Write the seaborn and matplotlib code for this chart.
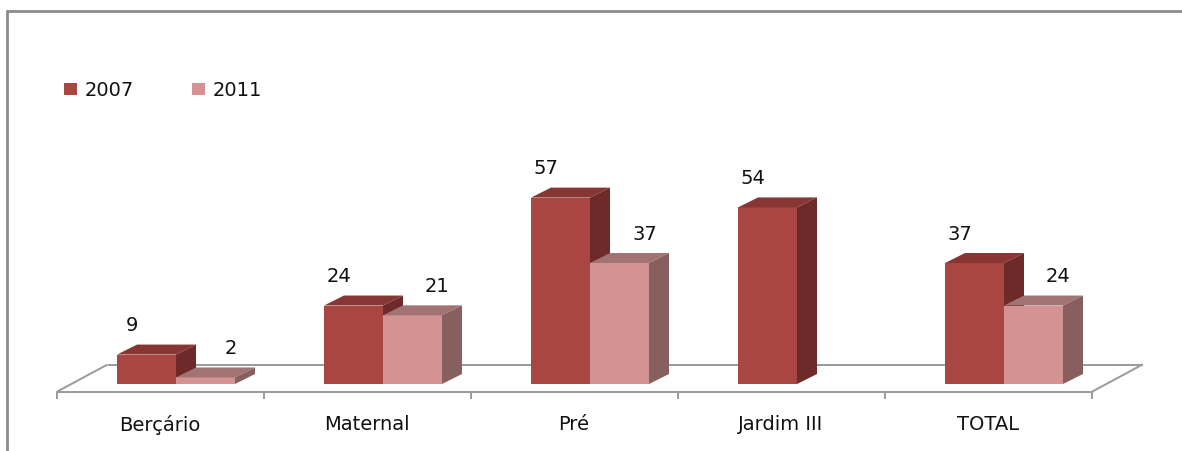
import matplotlib
matplotlib.use("Agg")
import matplotlib.pyplot as plt
import seaborn as sns
import pandas as pd
from matplotlib.patches import Polygon, Rectangle
from matplotlib.lines import Line2D

# ---- data -------------------------------------------------------------
categories = ["Berçário", "Maternal", "Pré", "Jardim III", "TOTAL"]
years = ["2007", "2011"]
values_2007 = [9, 24, 57, 54, 37]
values_2011 = [2, 21, 37, None, 24]

# ---- style ------------------------------------------------------------
front_colors = {"2007": "#AA4642", "2011": "#D49292"}
top_colors = {"2007": "#873634", "2011": "#A27373"}
side_colors = {"2007": "#6E2A28", "2011": "#875F5F"}
grid_color = "#9A9A9A"
text_font = ["DejaVu Sans"]
FS = 14

sns.set_style("white")
plt.rcParams["font.family"] = text_font

rows = []
for cat, v07, v11 in zip(categories, values_2007, values_2011):
    for yr, v in zip(years, (v07, v11)):
        if v is not None:
            rows.append({"category": cat, "year": yr, "value": v})
df = pd.DataFrame(rows)

# figure geometry (pixels at dpi 100)
FIG_W, FIG_H, DPI = 1182, 452, 100
PX_CAT = 207.0      # pixels per category step
PX_UNIT = 3.27      # pixels per value unit
X0_PX = 176.0       # pixel x of first category centre
BASE_PX = 385.0     # pixel y of bar baseline
AX_L, AX_R, AX_T, AX_B = 40.0, 1160.0, 30.0, 430.0

fig = plt.figure(figsize=(FIG_W / DPI, FIG_H / DPI), dpi=DPI)
ax = fig.add_axes([AX_L / FIG_W, (FIG_H - AX_B) / FIG_H,
                   (AX_R - AX_L) / FIG_W, (AX_B - AX_T) / FIG_H])


def px_x(p):
    return p / PX_CAT


def px_y(p):
    return p / PX_UNIT


sns.barplot(data=df, x="category", y="value", hue="year",
            order=categories, hue_order=years, palette=front_colors,
            width=0.57, saturation=1, errorbar=None, legend=False,
            linewidth=0, ax=ax)

ax.set_xlim(px_x(AX_L - X0_PX), px_x(AX_R - X0_PX))
ax.set_ylim(px_y(BASE_PX - AX_B), px_y(BASE_PX - AX_T))
ax.set_axis_off()

# depth of the bars (oblique projection)
DX, DY = px_x(20), px_y(10)
label_dx = {"2007": px_x(-15), "2011": px_x(25)}
label_dy = px_y(30)

for yr, container in zip(years, ax.containers):
    z = 3 if yr == "2007" else 4
    for bar in container:
        h = bar.get_height()
        if h is None or h != h:
            continue
        x0 = bar.get_x()
        x1 = x0 + bar.get_width()
        bar.set_zorder(z)
        top = Polygon([(x0, h), (x1, h), (x1 + DX, h + DY), (x0 + DX, h + DY)],
                      closed=True, facecolor=top_colors[yr], edgecolor="none",
                      zorder=z)
        side = Polygon([(x1, 0), (x1, h), (x1 + DX, h + DY), (x1 + DX, DY)],
                       closed=True, facecolor=side_colors[yr], edgecolor="none",
                       zorder=z)
        ax.add_patch(top)
        ax.add_patch(side)
        ax.text((x0 + x1) / 2 + label_dx[yr], h + label_dy, f"{h:g}",
                ha="center", va="center", fontsize=FS, color="#111111",
                zorder=6)

# floor of the plot area
n = len(categories)
fx_off, fy_off = px_x(-16), px_y(-8)
bx_off, by_off = px_x(35), px_y(19.5)
fl, fr = -0.5 + fx_off, n - 0.5 + fx_off
bl, br = -0.5 + bx_off, n - 0.5 + bx_off
floor_kw = dict(color=grid_color, lw=1.4, zorder=1, solid_capstyle="butt")
ax.plot([fl, fr], [fy_off, fy_off], **floor_kw)
ax.plot([bl, br], [by_off, by_off], **floor_kw)
ax.plot([fl, bl], [fy_off, by_off], **floor_kw)
ax.plot([fr, br], [fy_off, by_off], **floor_kw)
for j in range(n + 1):
    xt = -0.5 + j + fx_off
    ax.plot([xt, xt], [fy_off, fy_off - px_y(7)], **floor_kw)

# category labels
for i, cat in enumerate(categories):
    ax.text(i + fx_off, px_y(BASE_PX - 425), cat, ha="center", va="center",
            fontsize=FS, color="#111111")

# legend
for k, yr in enumerate(years):
    lx = 64 + k * 128
    fig.add_artist(Rectangle((lx / FIG_W, 1 - 96 / FIG_H), 13 / FIG_W, 12 / FIG_H,
                             transform=fig.transFigure,
                             facecolor=front_colors[yr], edgecolor="none"))
    fig.text((lx + 21) / FIG_W, 1 - 90 / FIG_H, yr, ha="left", va="center",
             fontsize=FS, color="#111111")

# chart frame (top and left edges)
frame_kw = dict(color="#8C8C8C", lw=2, transform=fig.transFigure)
fig.add_artist(Line2D([7 / FIG_W, 1], [1 - 12 / FIG_H, 1 - 12 / FIG_H], **frame_kw))
fig.add_artist(Line2D([7 / FIG_W, 7 / FIG_W], [0, 1 - 12 / FIG_H], **frame_kw))

fig.savefig("out.png", dpi=DPI, facecolor="white")
